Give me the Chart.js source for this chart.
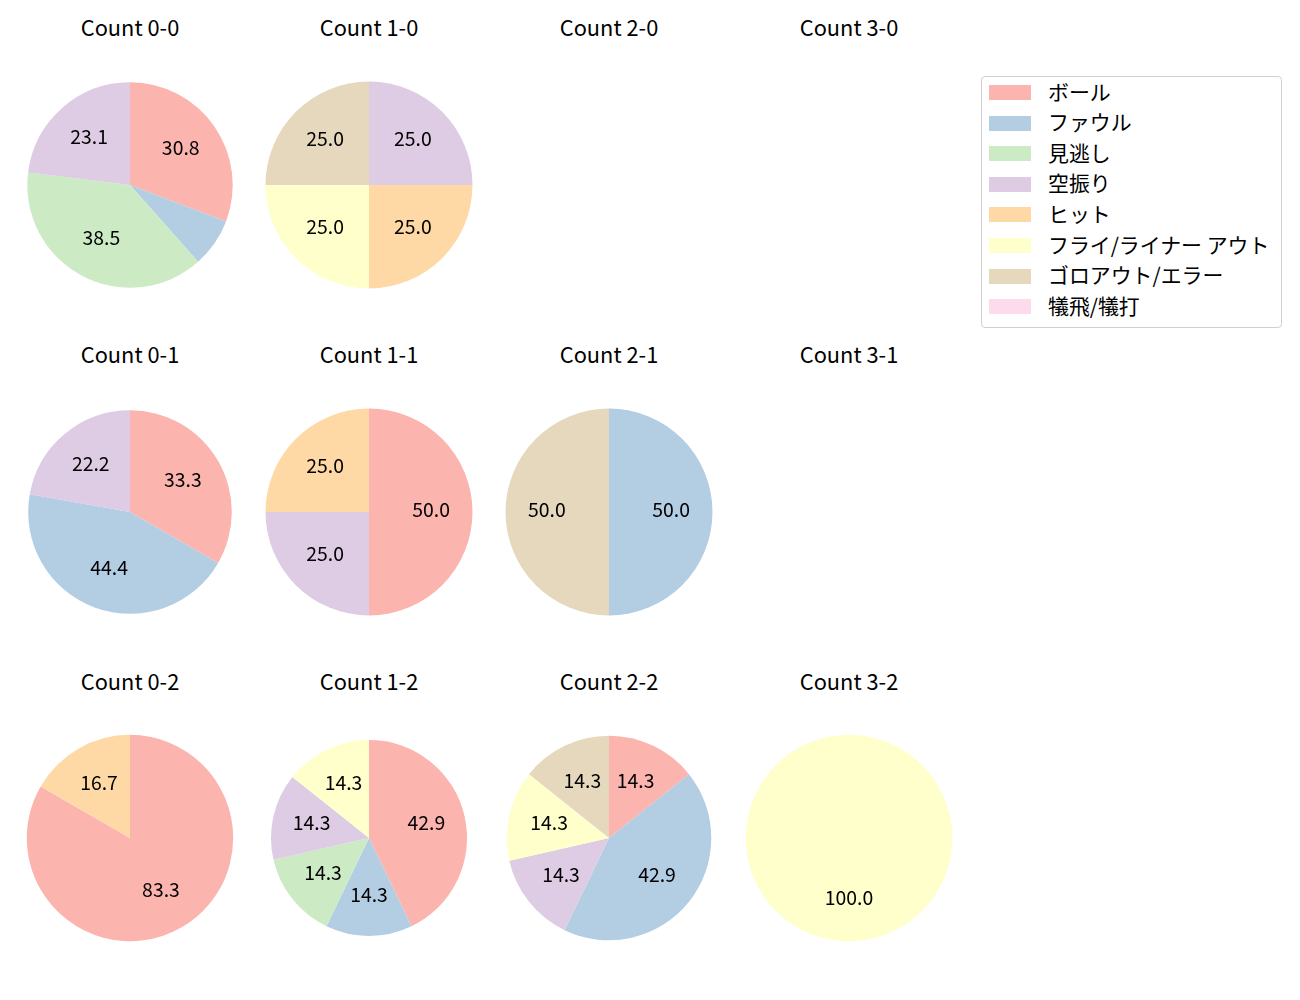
<!DOCTYPE html>
<html>
<head>
<meta charset="utf-8">
<script src="https://cdn.jsdelivr.net/npm/chart.js@4/dist/chart.umd.min.js"></script>
<style>
  html, body { margin: 0; padding: 0; background: #fff; }
  body { width: 1300px; height: 1000px; position: relative; overflow: hidden;
         font-family: "Noto Sans CJK JP", "Noto Sans", sans-serif; color: #000; }
  .title { position: absolute; font-size: 21.8px; white-space: nowrap;
           transform: translate(-50%, -50%); line-height: 1; }
  .panel { position: absolute; width: 260px; height: 260px; }
  .legend { position: absolute; left: 981px; top: 76px; width: 299px; height: 250px;
            border: 1px solid #d0d0d0; border-radius: 4px; background: #fff; }
  .legrow { position: absolute; left: 0; height: 0; }
  .sw { position: absolute; left: 7px; width: 42px; height: 15px; top: -7.5px; }
  .lt { position: absolute; left: 66px; top: -2px; font-size: 20.9px; white-space: nowrap;
        transform: translateY(-50%); line-height: 1; }
</style>
</head>
<body>
<script>
// ---- data ----
const categories = ['ボール', 'ファウル', '見逃し', '空振り', 'ヒット', 'フライ/ライナー アウト', 'ゴロアウト/エラー', '犠飛/犠打'];
const colors = ['#fbb4ae', '#b3cde3', '#ccebc5', '#decbe4', '#fed9a6', '#ffffcc', '#e5d8bd', '#fddaec'];

const count00 = [4, 1, 5, 3, 0, 0, 0, 0];
const count10 = [0, 0, 0, 1, 1, 1, 1, 0];
const count20 = [0, 0, 0, 0, 0, 0, 0, 0];
const count30 = [0, 0, 0, 0, 0, 0, 0, 0];
const count01 = [3, 4, 0, 2, 0, 0, 0, 0];
const count11 = [2, 0, 0, 1, 1, 0, 0, 0];
const count21 = [0, 1, 0, 0, 0, 0, 1, 0];
const count31 = [0, 0, 0, 0, 0, 0, 0, 0];
const count02 = [5, 0, 0, 0, 1, 0, 0, 0];
const count12 = [3, 1, 1, 1, 0, 1, 0, 0];
const count22 = [1, 3, 0, 1, 0, 1, 1, 0];
const count32 = [0, 0, 0, 0, 0, 1, 0, 0];

const panelTitles = ['Count 0-0', 'Count 1-0', 'Count 2-0', 'Count 3-0',
                     'Count 0-1', 'Count 1-1', 'Count 2-1', 'Count 3-1',
                     'Count 0-2', 'Count 1-2', 'Count 2-2', 'Count 3-2'];
const panelData = [count00, count10, count20, count30,
                   count01, count11, count21, count31,
                   count02, count12, count22, count32];

// ---- layout (not data) ----
const colCenters = [130, 369, 609, 849];
const rowCenters = [184.5, 511.5, 838.3];
const titleY = [26.5, 353.5, 680.5];
const panelRadius = [102.7, 103.5, 103, 103,
                     101.8, 103.5, 103.5, 103,
                     103.2, 98, 102.3, 103.3];

const pctLabels = {
  id: 'pctLabels',
  afterDatasetsDraw(chart) {
    const ctx = chart.ctx;
    const ds = chart.data.datasets[0];
    const total = ds.data.reduce((a, b) => a + b, 0);
    if (!total) return;
    const meta = chart.getDatasetMeta(0);
    ctx.save();
    ctx.font = '19.4px "Noto Sans CJK JP", "Noto Sans", sans-serif';
    ctx.fillStyle = '#000';
    ctx.textAlign = 'center';
    ctx.textBaseline = 'middle';
    meta.data.forEach((arc, i) => {
      const v = ds.data[i];
      if (!v) return;
      const pct = v / total * 100;
      if (pct < 10) return;
      const p = arc.getProps(['x', 'y', 'startAngle', 'endAngle', 'outerRadius'], true);
      const mid = (p.startAngle + p.endAngle) / 2;
      const r = p.outerRadius * 0.6;
      ctx.fillText(pct.toFixed(1), p.x + Math.cos(mid) * r, p.y + Math.sin(mid) * r - 2);
    });
    ctx.restore();
  }
};

panelData.forEach((vals, idx) => {
  const col = idx % 4, row = Math.floor(idx / 4);
  const cx = colCenters[col], cy = rowCenters[row];
  const t = document.createElement('div');
  t.className = 'title';
  t.style.left = cx + 'px';
  t.style.top = titleY[row] + 'px';
  t.textContent = panelTitles[idx];
  document.body.appendChild(t);

  const div = document.createElement('div');
  div.className = 'panel';
  div.style.left = (cx - 130) + 'px';
  div.style.top = (cy - 130) + 'px';
  const cv = document.createElement('canvas');
  div.appendChild(cv);
  document.body.appendChild(div);

  new Chart(cv, {
    type: 'pie',
    data: {
      labels: categories,
      datasets: [{
        data: vals,
        backgroundColor: colors,
        borderWidth: 0,
        radius: panelRadius[idx]
      }]
    },
    options: {
      responsive: true,
      maintainAspectRatio: false,
      animation: false,
      devicePixelRatio: 1,
      layout: { padding: 0 },
      plugins: { legend: { display: false }, tooltip: { enabled: false }, title: { display: false } }
    },
    plugins: [pctLabels]
  });
});

// legend
const leg = document.createElement('div');
leg.className = 'legend';
const rowYs0 = 15.5, rowStep = 30.6;
categories.forEach((c, i) => {
  const r = document.createElement('div');
  r.className = 'legrow';
  r.style.top = (rowYs0 + i * rowStep) + 'px';
  const sw = document.createElement('div');
  sw.className = 'sw';
  sw.style.background = colors[i];
  const lt = document.createElement('div');
  lt.className = 'lt';
  lt.textContent = c;
  r.appendChild(sw); r.appendChild(lt);
  leg.appendChild(r);
});
document.body.appendChild(leg);
</script>
</body>
</html>
